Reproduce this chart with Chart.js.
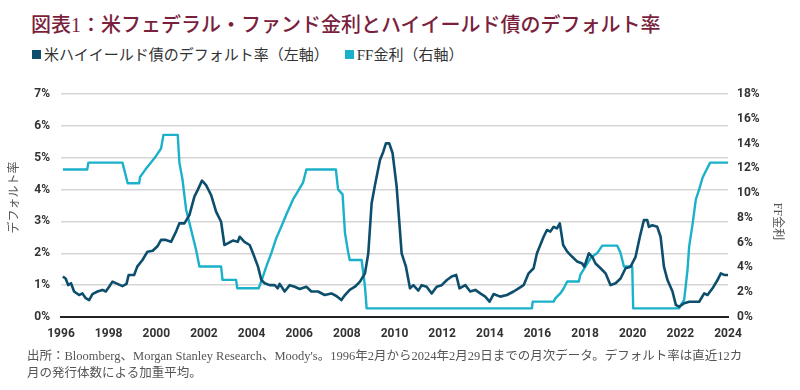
<!DOCTYPE html>
<html lang="ja">
<head>
<meta charset="utf-8">
<script src="https://cdn.jsdelivr.net/npm/chart.js@4.4.1/dist/chart.umd.min.js"></script>
<style>
  body { margin: 0; background: #fff; width: 800px; height: 390px; overflow: hidden; position: relative;
         font-family: "Liberation Serif", "Noto Sans CJK JP", serif; }
  #title { position: absolute; left: 31px; top: 12px; font-size: 20px; line-height: 26px; color: #7a1f3d; white-space: nowrap; font-weight: 500; }
  #legend { position: absolute; left: 32px; top: 45px; font-size: 15px; line-height: 20px; color: #333; white-space: nowrap; }
  #legend .sw { display: inline-block; width: 9px; height: 9px; margin-right: 3px; vertical-align: 1px; }
  #legend .item { margin-right: 16px; }
  #note { position: absolute; left: 27px; top: 348px; font-size: 12.5px; line-height: 17px; color: #555; white-space: nowrap; }
  #chart { position: absolute; left: 0; top: 0; }
</style>
</head>
<body>
<div id="title">図表1：米フェデラル・ファンド金利とハイイールド債のデフォルト率</div>
<div id="legend"></div>
<canvas id="chart" width="800" height="390"></canvas>
<div id="note">出所：Bloomberg、Morgan Stanley Research、Moody's。1996年2月から2024年2月29日までの月次データ。デフォルト率は直近12カ<br>月の発行体数による加重平均。</div>
<script>
'use strict';

// ハイイールド債のデフォルト率（左軸, %）
const hyDates = [
  1996.08, 1996.2, 1996.3, 1996.42, 1996.55, 1996.76, 1996.9, 1997.04, 1997.18, 1997.32,
  1997.53, 1997.74, 1997.88, 1998.02, 1998.16, 1998.37, 1998.58, 1998.75, 1998.84, 1999.07,
  1999.2, 1999.42, 1999.63, 1999.85, 2000.06, 2000.2, 2000.4, 2000.62, 2000.83, 2000.97,
  2001.18, 2001.39, 2001.6, 2001.74, 2001.92, 2002.09, 2002.3, 2002.51, 2002.72, 2002.86,
  2003.0, 2003.21, 2003.42, 2003.5, 2003.7, 2003.92, 2004.06, 2004.27, 2004.41, 2004.55,
  2004.76, 2004.97, 2005.1, 2005.18, 2005.39, 2005.6, 2005.81, 2006.02, 2006.3, 2006.51,
  2006.79, 2007.07, 2007.35, 2007.56, 2007.77, 2007.92, 2008.12, 2008.34, 2008.55, 2008.76,
  2008.9, 2009.04, 2009.18, 2009.39, 2009.53, 2009.64, 2009.78, 2009.92, 2010.09, 2010.3,
  2010.48, 2010.65, 2010.79, 2011.0, 2011.14, 2011.35, 2011.56, 2011.77, 2011.98, 2012.2,
  2012.4, 2012.59, 2012.73, 2012.97, 2013.18, 2013.39, 2013.6, 2013.81, 2013.99, 2014.16,
  2014.44, 2014.72, 2015.0, 2015.21, 2015.42, 2015.63, 2015.84, 2015.98, 2016.12, 2016.26,
  2016.4, 2016.54, 2016.68, 2016.82, 2016.94, 2017.08, 2017.25, 2017.46, 2017.67, 2017.88,
  2017.97, 2018.16, 2018.3, 2018.44, 2018.65, 2018.86, 2019.07, 2019.28, 2019.49, 2019.7,
  2019.91, 2020.12, 2020.3, 2020.47, 2020.61, 2020.68, 2020.82, 2021.03, 2021.17, 2021.31,
  2021.46, 2021.67, 2021.81, 2021.95, 2022.16, 2022.37, 2022.58, 2022.79, 2023.0, 2023.14,
  2023.35, 2023.56, 2023.7, 2023.84, 2024.08
];
const hyRates = [
  1.27, 1.2, 1.0, 1.06, 0.8, 0.69, 0.74, 0.59, 0.53, 0.72,
  0.8, 0.85, 0.8, 0.95, 1.11, 1.04, 0.97, 1.04, 1.32, 1.32,
  1.58, 1.79, 2.05, 2.08, 2.23, 2.42, 2.42, 2.36, 2.68, 2.94,
  2.94, 3.2, 3.78, 3.99, 4.28, 4.14, 3.83, 3.31, 2.99, 2.26,
  2.31, 2.4, 2.36, 2.52, 2.36, 2.26, 2.0, 1.58, 1.16, 1.06,
  1.0, 1.0, 0.9, 1.04, 0.8, 1.0, 0.95, 0.88, 0.95, 0.8,
  0.8, 0.69, 0.74, 0.66, 0.53, 0.69, 0.85, 0.95, 1.11, 1.37,
  2.0, 3.57, 4.14, 4.93, 5.19, 5.45, 5.45, 5.14, 4.09, 2.0,
  1.58, 0.9, 1.0, 0.83, 1.0, 0.95, 0.74, 0.95, 1.0, 1.16,
  1.27, 1.32, 0.9, 1.0, 0.8, 0.85, 0.74, 0.64, 0.48, 0.72,
  0.64, 0.69, 0.8, 0.9, 1.0, 1.37, 1.53, 2.0, 2.26, 2.52,
  2.73, 2.68, 2.83, 2.78, 2.94, 2.26, 2.05, 1.89, 1.74, 1.68,
  1.58, 2.0, 1.89, 1.68, 1.53, 1.37, 1.0, 1.06, 1.21, 1.53,
  1.58, 1.89, 2.52, 3.04, 3.04, 2.83, 2.88, 2.83, 2.52, 1.58,
  1.16, 0.8, 0.38, 0.32, 0.43, 0.48, 0.48, 0.48, 0.74, 0.69,
  0.9, 1.16, 1.37, 1.32, 1.32
];

// FF金利（右軸の目盛りで読んだ値, %）
const ffDates = [
  1996.08, 1997.1, 1997.15, 1998.58, 1998.8, 1999.28, 1999.32, 1999.54, 1999.77, 1999.99,
  2000.2, 2000.3, 2000.9, 2000.97, 2001.1, 2001.25, 2001.46, 2001.67, 2001.81, 2002.72,
  2002.78, 2003.35, 2003.4, 2004.3, 2004.48, 2004.62, 2004.83, 2005.04, 2005.25, 2005.46,
  2005.74, 2005.95, 2006.16, 2006.3, 2007.54, 2007.63, 2007.82, 2007.92, 2008.06, 2008.12,
  2008.62, 2008.76, 2008.83, 2015.77, 2015.8, 2016.68, 2016.75, 2016.96, 2017.1, 2017.25,
  2017.74, 2017.8, 2018.02, 2018.23, 2018.51, 2018.72, 2019.35, 2019.49, 2019.63, 2019.98,
  2020.02, 2021.95, 2022.02, 2022.16, 2022.3, 2022.37, 2022.51, 2022.65, 2022.79, 2022.93,
  2023.07, 2023.25, 2024.08
];
const ffRates = [
  11.9, 11.9, 12.46, 12.46, 10.8, 10.8, 11.3, 11.9, 12.46, 13.0,
  13.6, 14.7, 14.7, 12.46, 11.1, 8.7, 7.05, 5.43, 4.08, 4.08,
  3.0, 3.0, 2.32, 2.32, 3.27, 4.08, 5.16, 6.38, 7.3, 8.27,
  9.49, 10.16, 10.84, 11.9, 11.9, 10.3, 9.9, 6.8, 5.16, 4.6,
  4.6, 2.46, 0.7, 0.7, 1.24, 1.24, 1.5, 1.9, 2.3, 2.86,
  2.86, 3.4, 4.08, 4.76, 5.16, 5.76, 5.76, 5.16, 4.08, 4.08,
  0.7, 0.7, 0.97, 1.38, 3.8, 5.7, 7.46, 9.5, 10.3, 11.24,
  11.78, 12.46, 12.46
];

const yearTicks = [1996, 1998, 2000, 2002, 2004, 2006, 2008, 2010, 2012, 2014, 2016, 2018, 2020, 2022, 2024];
const seriesNames = ['米ハイイールド債のデフォルト率（左軸）', 'FF金利（右軸）'];
const seriesColors = ['#0d4e6d', '#1bb1cb'];
const axisTitles = ['デフォルト率', 'FF金利'];

// legend
const legend = document.getElementById('legend');
seriesNames.forEach((name, i) => {
  const item = document.createElement('span');
  item.className = 'item';
  item.innerHTML = '<span class="sw" style="background:' + seriesColors[i] + '"></span>' + name;
  legend.appendChild(item);
});

const toPoints = (xs, ys) => xs.map((x, i) => ({ x: x, y: ys[i] }));

const tickFont = { family: 'Roboto, "DejaVu Sans", sans-serif', size: 12, weight: 'bold' };
const gridColor = '#d6d6d6';

const axisTitlePlugin = {
  id: 'axisTitles',
  afterDraw(chart) {
    const { ctx, chartArea } = chart;
    const mid = (chartArea.top + chartArea.bottom) / 2;
    ctx.save();
    ctx.font = '12px "Liberation Serif", "Noto Sans CJK JP", serif';
    ctx.fillStyle = '#555';
    ctx.textAlign = 'center';
    ctx.textBaseline = 'middle';
    ctx.translate(chart.scales.y.left + 15, mid - 8);
    ctx.rotate(-Math.PI / 2);
    ctx.fillText(axisTitles[0], 0, 0);
    ctx.restore();
    ctx.save();
    ctx.font = '12px "Liberation Serif", "Noto Sans CJK JP", serif';
    ctx.fillStyle = '#555';
    ctx.textAlign = 'center';
    ctx.textBaseline = 'middle';
    ctx.translate(chart.scales.y1.right - 23, mid + 16);
    ctx.rotate(Math.PI / 2);
    ctx.fillText(axisTitles[1], 0, 0);
    ctx.restore();
  }
};

new Chart(document.getElementById('chart').getContext('2d'), {
  type: 'line',
  data: {
    datasets: [{
      label: seriesNames[0],
      data: toPoints(hyDates, hyRates),
      yAxisID: 'y',
      borderColor: seriesColors[0],
      borderWidth: 2.6,
      pointRadius: 0,
      tension: 0,
      borderJoinStyle: 'round'
    }, {
      label: seriesNames[1],
      data: toPoints(ffDates, ffRates),
      yAxisID: 'y1',
      borderColor: seriesColors[1],
      borderWidth: 2.4,
      pointRadius: 0,
      tension: 0,
      borderJoinStyle: 'round'
    }]
  },
  options: {
    responsive: false,
    animation: false,
    layout: { padding: { left: 0, right: 0, top: 94, bottom: 43 } },
    plugins: { legend: { display: false }, tooltip: { enabled: false } },
    scales: {
      x: {
        type: 'linear',
        min: 1996,
        max: 2024,
        afterBuildTicks: (s) => { s.ticks = yearTicks.map(v => ({ value: v })); },
        afterFit: (s) => { s.height = 30; },
        grid: { display: false, drawTicks: false },
        border: { display: true, color: '#222', width: 2 },
        ticks: { font: tickFont, color: '#333', padding: 10, maxRotation: 0, autoSkip: false,
                 callback: (v) => String(v) }
      },
      y: {
        position: 'left',
        min: 0,
        max: 7,
        afterFit: (s) => { s.width = 61; },
        grid: {
          drawTicks: false,
          lineWidth: 1.5,
          color: (c) => (c.tick && c.tick.value === 0) ? 'rgba(0,0,0,0)' : gridColor
        },
        border: { display: false },
        ticks: { stepSize: 1, font: tickFont, color: '#333', padding: 11, callback: (v) => v + '%' }
      },
      y1: {
        position: 'right',
        min: 0,
        max: 18,
        afterFit: (s) => { s.width = 72; },
        grid: { display: false, drawTicks: false },
        border: { display: false },
        ticks: { stepSize: 2, font: tickFont, color: '#333', padding: 9, callback: (v) => v + '%' }
      }
    }
  },
  plugins: [axisTitlePlugin]
});
</script>
</body>
</html>
